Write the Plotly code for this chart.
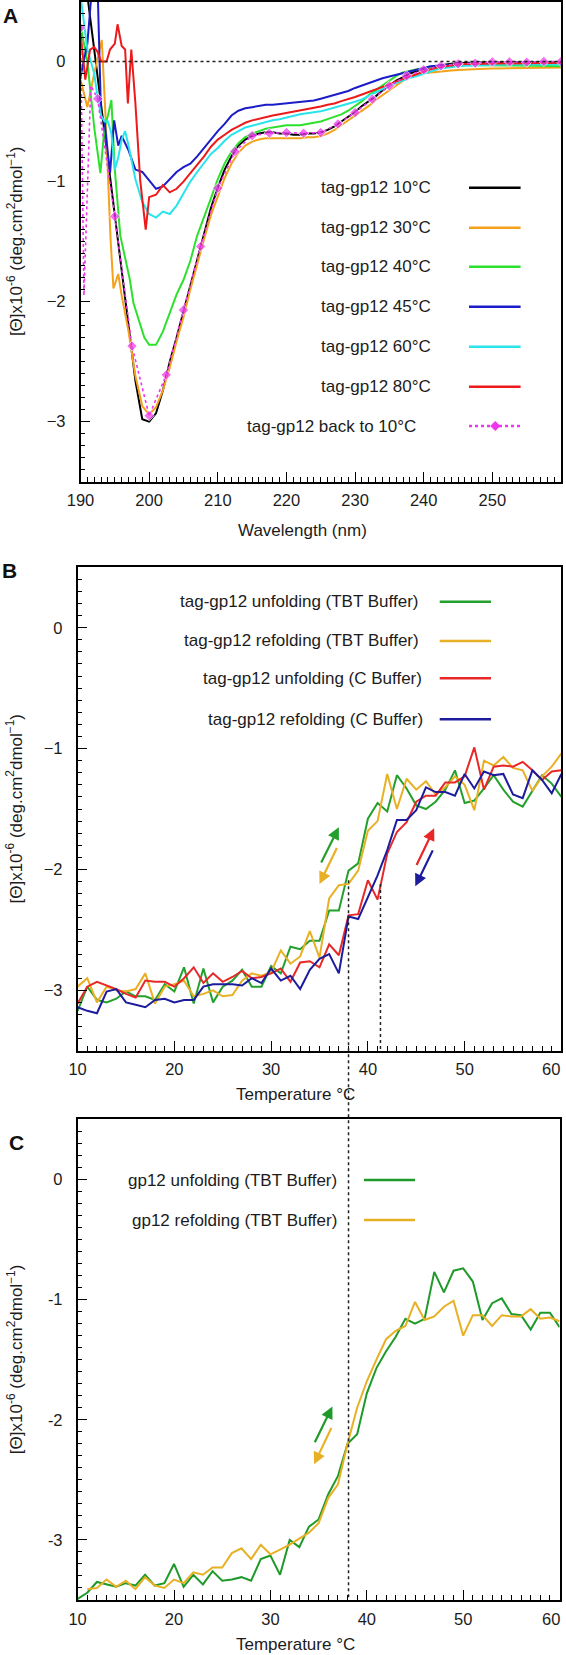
import plotly.graph_objects as go

W, H = 566, 1655
FONT = "Liberation Sans, Arial, Helvetica, sans-serif"
INK = "#1c1c1c"

def px(x):
    return x / W

def py(y):
    return 1 - y / H

# ---------------- Panel A : CD spectra ----------------
wl_grid = [200, 201, 202, 203, 204, 205, 206, 207, 208, 209,
           210, 211, 212, 213, 214, 215, 216, 217, 218, 219,
           220, 221, 222, 223, 224, 225, 226, 227, 228, 229,
           230, 231, 232, 233, 234, 235, 236, 237, 238, 239,
           240, 241, 242, 243, 244, 245, 246,
           248, 250, 252, 254, 256, 258, 260]

wl_10_head = [190, 191, 192, 193, 194, 195, 196, 197, 198, 199]
th_10_head = [0.9, 0.55, 0.1, -0.35, -0.8, -1.29, -1.75, -2.2, -2.66, -2.98]
th_10_tail = [-3.0, -2.93, -2.74, -2.5, -2.3, -2.08, -1.86, -1.64, -1.43, -1.22,
              -1.05, -0.9, -0.79, -0.7, -0.65, -0.62, -0.6, -0.59, -0.59, -0.6,
              -0.6, -0.61, -0.61, -0.6, -0.6, -0.59, -0.57, -0.54, -0.5, -0.46,
              -0.42, -0.37, -0.33, -0.29, -0.24, -0.2, -0.16, -0.13, -0.1, -0.08,
              -0.06, -0.045, -0.035, -0.025, -0.018, -0.013, -0.01,
              -0.008, -0.006, -0.005, -0.005, -0.005, -0.005, -0.005]

wl_30_head = [190, 191, 192, 193.1, 193.6, 194.0, 194.4, 194.8, 195.5, 196, 197, 198, 199]
th_30_head = [-0.15, -0.38, -0.1, 0.18, -0.4, -1.0, -1.5, -1.89, -1.77, -1.95, -2.25, -2.62, -2.87]
th_30_tail = [-2.94, -2.88, -2.74, -2.55, -2.33, -2.13, -1.9, -1.68, -1.48, -1.28,
              -1.12, -0.97, -0.85, -0.76, -0.7, -0.667, -0.65, -0.64, -0.64, -0.64,
              -0.64, -0.64, -0.64, -0.63, -0.63, -0.62, -0.6, -0.57, -0.53, -0.49,
              -0.45, -0.41, -0.37, -0.32, -0.28, -0.24, -0.2, -0.16, -0.13, -0.11,
              -0.097, -0.09, -0.085, -0.08, -0.075, -0.07, -0.066,
              -0.062, -0.058, -0.056, -0.055, -0.054, -0.052, -0.05]

wl_40_head = [190, 191, 192, 192.9, 193.5, 194, 194.5, 195, 195.8, 196.5, 197.2, 197.7, 198.7, 199.3]
th_40_head = [0.3, 0.0, -0.55, -0.93, -0.55, -0.45, -0.32, -0.9, -1.45, -1.65, -1.82, -2.01, -2.18, -2.3]
th_40_tail = [-2.36, -2.36, -2.25, -2.1, -1.94, -1.82, -1.66, -1.45, -1.3, -1.14,
              -0.98, -0.85, -0.75, -0.68, -0.63, -0.6, -0.58, -0.56, -0.55, -0.54,
              -0.53, -0.53, -0.53, -0.52, -0.51, -0.5, -0.48, -0.46, -0.44, -0.41,
              -0.37, -0.33, -0.28, -0.24, -0.2, -0.16, -0.12, -0.09, -0.075, -0.064,
              -0.055, -0.045, -0.04, -0.035, -0.032, -0.03, -0.03,
              -0.03, -0.03, -0.032, -0.035, -0.035, -0.038, -0.04]

wl_45_head = [190, 191, 191.8, 192.5, 193, 193.5, 194.3, 194.9, 195.5, 196, 197, 198, 199]
th_45_head = [-0.13, 0.15, 0.7, 0.6, -0.46, -0.5, -0.93, -0.49, -0.7, -0.62, -0.74, -0.9, -0.92]
th_45_tail = [-0.99, -1.06, -1.04, -0.98, -0.92, -0.88, -0.85, -0.79, -0.72, -0.65,
              -0.58, -0.52, -0.45, -0.41, -0.39, -0.38, -0.37, -0.36, -0.36, -0.355,
              -0.35, -0.345, -0.34, -0.335, -0.325, -0.31, -0.295, -0.28, -0.26, -0.245,
              -0.22, -0.2, -0.175, -0.16, -0.14, -0.125, -0.11, -0.095, -0.08, -0.07,
              -0.055, -0.04, -0.035, -0.03, -0.028, -0.025, -0.025,
              -0.022, -0.022, -0.02, -0.02, -0.02, -0.02, -0.02]

wl_60_head = [190, 190.5, 191, 191.5, 192, 192.5, 193, 193.5, 194, 194.5, 195, 195.5,
              196, 196.5, 197, 198, 199]
th_60_head = [0.55, 0.3, 0.1, 0.0, -0.1, -0.3, -0.45, -0.5, -0.5, -0.6, -0.9, -0.8,
              -0.65, -0.58, -0.7, -0.98, -1.17]
th_60_tail = [-1.27, -1.3, -1.25, -1.27, -1.2, -1.1, -1.0, -0.92, -0.84, -0.77,
              -0.72, -0.66, -0.61, -0.58, -0.55, -0.535, -0.52, -0.5, -0.49, -0.48,
              -0.465, -0.455, -0.44, -0.43, -0.425, -0.415, -0.4, -0.385, -0.37, -0.355,
              -0.335, -0.315, -0.285, -0.255, -0.23, -0.2, -0.18, -0.155, -0.135, -0.12,
              -0.1, -0.08, -0.065, -0.055, -0.045, -0.04, -0.035,
              -0.03, -0.028, -0.025, -0.025, -0.025, -0.025, -0.025]

wl_80_head = [190, 190.7, 191.4, 192, 192.5, 193, 193.8, 194.3, 195, 195.4, 196, 196.5,
              196.9, 197.4, 198, 198.7, 199.5]
th_80_head = [0.24, -0.15, 0.1, 0.12, 0.08, 0.0, 0.0, 0.1, 0.15, 0.31, 0.13, 0.1,
              -0.35, 0.1, -0.35, -0.99, -1.4]
th_80_tail = [-1.13, -1.11, -1.03, -1.09, -1.06, -1.0, -0.93, -0.86, -0.79, -0.71,
              -0.65, -0.61, -0.57, -0.54, -0.51, -0.49, -0.475, -0.46, -0.45, -0.44,
              -0.43, -0.42, -0.41, -0.4, -0.39, -0.375, -0.36, -0.35, -0.33, -0.315,
              -0.295, -0.275, -0.255, -0.235, -0.21, -0.19, -0.165, -0.145, -0.12, -0.1,
              -0.08, -0.065, -0.05, -0.04, -0.03, -0.025, -0.02,
              -0.018, -0.015, -0.012, -0.01, -0.01, -0.01, -0.01]

wl_back = [190, 190.5, 191.5, 192.5, 195, 197.5, 200, 202.5, 205, 207.5, 210, 212.5,
           215, 217.5, 220, 222.5, 225, 227.5, 230, 232.5, 235, 237.5, 240, 242.5,
           245, 247.5, 250, 252.5, 255, 257.5, 260]
th_back = [0.28, -1.95, -0.2, -0.31, -1.29, -2.37, -2.95, -2.61, -2.07, -1.54, -1.055, -0.75,
           -0.617, -0.597, -0.592, -0.597, -0.592, -0.52, -0.425, -0.314, -0.203, -0.12, -0.069, -0.036,
           -0.019, -0.014, -0.003, -0.003, -0.005, 0.0, 0.0]

names_A = ["tag-gp12 10°C", "tag-gp12 30°C", "tag-gp12 40°C", "tag-gp12 45°C",
           "tag-gp12 60°C", "tag-gp12 80°C", "tag-gp12 back to 10°C"]
colors_A = ["#000000", "#f4a21c", "#2ee02e", "#1c1cc8", "#2ae4ec", "#ec1a1a", "#ee36ee"]

# ---------------- Panel B ----------------
temp_B = [10, 11, 12, 13, 14, 15, 16, 17, 18, 19,
          20, 21, 22, 23, 24, 25, 26, 27, 28, 29,
          30, 31, 32, 33, 34, 35, 36, 37, 38, 39,
          40, 41, 42, 43, 44, 45, 46, 47, 48, 49,
          50, 51, 52, 53, 54, 55, 56, 57, 58, 59, 60]
unf_TBT = [-3.17, -2.97, -3.08, -3.1, -3.07, -3.01, -3.05, -3.05, -3.08, -2.95,
           -3.01, -2.81, -3.11, -2.82, -3.1, -2.97, -2.92, -2.83, -2.97, -2.97,
           -2.8, -2.86, -2.64, -2.66, -2.59, -2.59, -2.34, -2.34, -2.01, -1.95,
           -1.58, -1.45, -1.52, -1.22, -1.33, -1.47, -1.5, -1.44, -1.34, -1.18,
           -1.45, -1.43, -1.33, -1.22, -1.34, -1.44, -1.48, -1.35, -1.22, -1.29, -1.4]
ref_TBT = [-2.97, -2.9, -3.1, -2.97, -3.0, -3.01, -2.99, -2.86, -3.11, -2.97,
           -2.95, -2.92, -3.05, -3.03, -3.0, -3.05, -3.04, -2.92, -2.86, -2.88,
           -2.85, -2.67, -2.78, -2.72, -2.51, -2.73, -2.24, -2.13, -2.12, -2.01,
           -1.68, -1.6, -1.21, -1.5, -1.25, -1.34, -1.27, -1.38, -1.32, -1.23,
           -1.3, -1.51, -1.1, -1.14, -1.07, -1.16, -1.18, -1.35, -1.23, -1.15, -1.04]
unf_C = [-3.11, -2.97, -2.93, -2.96, -2.99, -3.03, -3.06, -2.92, -2.93, -2.93,
         -2.97, -2.9, -2.81, -2.94, -2.86, -2.93, -2.89, -2.84, -2.9, -2.89,
         -2.86, -2.82, -2.93, -2.77, -2.76, -2.81, -2.62, -2.71, -2.38, -2.37,
         -2.09, -2.25, -1.87, -1.69, -1.61, -1.44, -1.39, -1.39, -1.28, -1.28,
         -1.23, -0.99, -1.34, -1.15, -1.14, -1.15, -1.11, -1.18, -1.26, -1.19, -1.18]
ref_C = [-3.14, -3.17, -3.19, -3.01, -2.99, -3.1, -3.12, -3.14, -3.08, -3.07,
         -3.1, -3.08, -3.08, -2.97, -2.95, -2.95, -2.95, -2.96, -2.9, -2.94,
         -2.82, -2.92, -2.88, -2.99, -2.83, -2.74, -2.7, -2.86, -2.39, -2.41,
         -2.23, -2.05, -1.84, -1.59, -1.59, -1.51, -1.32, -1.36, -1.36, -1.39,
         -1.21, -1.33, -1.19, -1.22, -1.21, -1.38, -1.41, -1.18, -1.26, -1.37, -1.21]
names_B = ["tag-gp12 unfolding (TBT Buffer)", "tag-gp12 refolding (TBT Buffer)",
           "tag-gp12 unfolding (C Buffer)", "tag-gp12 refolding (C Buffer)"]
colors_B = ["#23a02c", "#e8b024", "#e82828", "#1c1c9c"]

# ---------------- Panel C ----------------
temp_C_unf = [10, 11, 12, 13, 14, 15, 16, 17, 18, 19,
              20, 21, 22, 23, 24, 25, 26, 27, 28, 29,
              30, 31, 32, 33, 34, 35, 36, 37, 38, 39,
              40, 41, 42, 43, 44, 45, 46, 47, 48, 49,
              50, 51, 52, 53, 54, 55, 56, 57, 58, 59, 60]
gp12_unf = [-3.49, -3.44, -3.35, -3.37, -3.39, -3.36, -3.38, -3.29, -3.38, -3.36,
            -3.2, -3.39, -3.29, -3.37, -3.26, -3.34, -3.33, -3.31, -3.34, -3.16,
            -3.13, -3.29, -3.0, -3.06, -2.89, -2.83, -2.62, -2.47, -2.2, -2.12,
            -1.78, -1.57, -1.43, -1.31, -1.16, -1.2, -1.16, -0.77, -0.94, -0.76,
            -0.74, -0.85, -1.17, -1.03, -0.99, -1.12, -1.13, -1.25, -1.11, -1.11, -1.23]
temp_C_ref = [11, 12, 13, 14, 15, 16, 17, 18, 19,
              20, 21, 22, 23, 24, 25, 26, 27, 28, 29,
              30, 31, 32, 33, 34, 35, 36, 37, 38, 39,
              40, 41, 42, 43, 44, 45, 46, 47, 48, 49,
              50, 51, 52, 53, 54, 55, 56, 57, 58, 59, 60]
gp12_ref = [-3.41, -3.4, -3.33, -3.39, -3.34, -3.41, -3.31, -3.38, -3.4,
            -3.33, -3.36, -3.27, -3.29, -3.23, -3.23, -3.11, -3.07, -3.16, -3.04,
            -3.12, -3.08, -3.04, -2.99, -2.94, -2.86, -2.65, -2.54, -2.2, -1.9,
            -1.68, -1.5, -1.33, -1.26, -1.22, -1.02, -1.17, -1.14, -1.06, -1.01,
            -1.3, -1.13, -1.13, -1.22, -1.13, -1.14, -1.14, -1.08, -1.16, -1.15, -1.18]
names_C = ["gp12 unfolding (TBT Buffer)", "gp12 refolding (TBT Buffer)"]
colors_C = ["#1f9a2a", "#e8b024"]

tm_B_TBT, tm_B_C, tm_C = 38.0, 41.3, 38.0
arrows_B = [((35.1, -1.955), (37.0, -1.65), colors_B[0]),
            ((36.87, -1.81), (35.0, -2.12), colors_B[1]),
            ((44.96, -1.975), (46.85, -1.66), colors_B[2]),
            ((46.78, -1.83), (44.9, -2.14), colors_B[3])]
arrows_C = [((34.53, -2.2), (36.43, -1.89), colors_C[0]),
            ((36.4, -2.055), (34.53, -2.37), colors_C[1])]

# ---------------- layout geometry ----------------
XR_A, XR_T, YR = [190, 260], [10, 60], [-3.5, 0.5]
DOM_A = dict(x=[px(80.5), px(561.0)], y=[py(481.7), py(1.5)])
DOM_B = dict(x=[px(77.6), px(561.4)], y=[py(1050.7), py(567.3)])
DOM_C = dict(x=[px(77.6), px(559.6)], y=[py(1600.0), py(1119.3)])


def to_paper(v, dom, rng):
    return dom[0] + (v - rng[0]) / (rng[1] - rng[0]) * (dom[1] - dom[0])


fig = go.Figure()

series_A = [
    (wl_10_head + wl_grid, th_10_head + th_10_tail),
    (wl_30_head + wl_grid, th_30_head + th_30_tail),
    (wl_40_head + wl_grid, th_40_head + th_40_tail),
    (wl_45_head + wl_grid, th_45_head + th_45_tail),
    (wl_60_head + wl_grid, th_60_head + th_60_tail),
    (wl_80_head + wl_grid, th_80_head + th_80_tail),
]
for (xs, ys), c in zip(series_A, colors_A[:6]):
    fig.add_trace(go.Scatter(x=xs, y=ys, mode="lines", line=dict(color=c, width=2),
                             xaxis="x", yaxis="y", hoverinfo="skip"))
marker_sizes = [8 if (w * 2) % 5 == 0 else 0 for w in wl_back]
fig.add_trace(go.Scatter(x=wl_back, y=th_back, mode="lines+markers",
                         line=dict(color=colors_A[6], width=1.6, dash="3px,3px"),
                         marker=dict(symbol="diamond", size=marker_sizes, color=colors_A[6]),
                         xaxis="x", yaxis="y", hoverinfo="skip"))

for ys, c in zip([unf_TBT, ref_TBT, unf_C, ref_C], colors_B):
    fig.add_trace(go.Scatter(x=temp_B, y=ys, mode="lines", line=dict(color=c, width=2),
                             xaxis="x2", yaxis="y2", hoverinfo="skip"))

for xs, ys, c in zip([temp_C_unf, temp_C_ref], [gp12_unf, gp12_ref], colors_C):
    fig.add_trace(go.Scatter(x=xs, y=ys, mode="lines", line=dict(color=c, width=2),
                             xaxis="x3", yaxis="y3", hoverinfo="skip"))


def xaxis(domain, rng, tickvals, anchor, tick0):
    return dict(domain=domain, range=rng, anchor=anchor, tickmode="array", tickvals=tickvals,
                ticks="inside", ticklen=10, tickwidth=1.3, tickcolor="black",
                showline=True, mirror=True, linecolor="black", linewidth=1.5,
                showgrid=False, zeroline=False, fixedrange=True, automargin=False,
                tickfont=dict(family=FONT, size=16.5, color=INK), ticklabelstandoff=3,
                minor=dict(ticks="inside", ticklen=5, tickwidth=1.1, tickcolor="black",
                           tickmode="linear", tick0=tick0, dtick=1, showgrid=False))


def yaxis(domain, anchor, ticktext):
    return dict(domain=domain, range=YR, anchor=anchor, tickmode="array",
                tickvals=[-3, -2, -1, 0], ticktext=ticktext,
                ticks="inside", ticklen=10, tickwidth=1.3, tickcolor="black",
                showline=True, mirror=True, linecolor="black", linewidth=1.5,
                showgrid=False, zeroline=False, fixedrange=True, automargin=False,
                tickfont=dict(family=FONT, size=16.5, color=INK), ticklabelstandoff=10,
                minor=dict(ticks="inside", ticklen=5, tickwidth=1.1, tickcolor="black",
                           tickmode="linear", tick0=0, dtick=0.1, showgrid=False))


minus_ticks = ["\u22123", "\u22122", "\u22121", "0"]
hyphen_ticks = ["-3", "-2", "-1", "0"]

fig.update_layout(
    template="none",
    width=W, height=H, autosize=False, margin=dict(l=0, r=0, t=0, b=0, pad=0),
    paper_bgcolor="white", plot_bgcolor="white", showlegend=False,
    font=dict(family=FONT, color=INK),
    xaxis=xaxis(DOM_A["x"], XR_A, [190, 200, 210, 220, 230, 240, 250], "y", 190),
    yaxis=yaxis(DOM_A["y"], "x", minus_ticks),
    xaxis2=xaxis(DOM_B["x"], XR_T, [10, 20, 30, 40, 50], "y2", 10),
    yaxis2=yaxis(DOM_B["y"], "x2", minus_ticks),
    xaxis3=xaxis(DOM_C["x"], XR_T, [10, 20, 30, 40, 50], "y3", 10),
    yaxis3=yaxis(DOM_C["y"], "x3", hyphen_ticks),
)

shapes = []
annotations = []

shapes.append(dict(type="line", xref="x", yref="y", x0=XR_A[0], x1=XR_A[1], y0=0, y1=0,
                   line=dict(color="#222", width=1.5, dash="dot")))
shapes.append(dict(type="line", xref="x2", yref="y2", x0=tm_B_C, x1=tm_B_C, y0=-2.12, y1=YR[0],
                   line=dict(color="#222", width=1.5, dash="dot")))
x_tm = to_paper(tm_B_TBT, DOM_B["x"], XR_T)
shapes.append(dict(type="line", xref="paper", yref="paper", x0=x_tm, x1=x_tm,
                   y0=to_paper(-2.09, DOM_B["y"], YR), y1=DOM_C["y"][0],
                   line=dict(color="#222", width=1.5, dash="dot")))


def legend(names, colors, text_right, rows, x0, x1, size=17, dashed_last=False):
    for i, (n, c) in enumerate(zip(names, colors)):
        annotations.append(dict(text=n, xref="paper", yref="paper", x=px(text_right[i]), y=py(rows[i]),
                                xanchor="right", yanchor="middle", showarrow=False,
                                font=dict(family=FONT, size=size, color=INK)))
        dash = "3px,3px" if (dashed_last and i == len(names) - 1) else "solid"
        shapes.append(dict(type="line", xref="paper", yref="paper", x0=px(x0), x1=px(x1),
                           y0=py(rows[i]), y1=py(rows[i]), line=dict(color=c, width=2.5, dash=dash)))


legend(names_A, colors_A, [433, 433, 433, 433, 433, 433, 418],
       [187.7, 227.7, 266.7, 306.7, 346.7, 386.7, 426.0], 469, 520.6, dashed_last=True)
cx, cy, d = 495.3, 426.0, 4.8
shapes.append(dict(type="path", xref="paper", yref="paper",
                   path=f"M {px(cx-d)},{py(cy)} L {px(cx)},{py(cy-d)} L {px(cx+d)},{py(cy)} L {px(cx)},{py(cy+d)} Z",
                   fillcolor=colors_A[6], line=dict(color=colors_A[6], width=0.5)))
legend(names_B, colors_B, [419.5, 420.6, 424, 425], [601.7, 641.0, 678.3, 719.3], 439.7, 491)
legend(names_C, colors_C, [339.4, 339.4], [1180.0, 1220.0], 364, 415)

for (tail, head, c), (xr, yr) in [(a, ("x2", "y2")) for a in arrows_B] + [(a, ("x3", "y3")) for a in arrows_C]:
    annotations.append(dict(x=head[0], y=head[1], ax=tail[0], ay=tail[1], xref=xr, yref=yr,
                            axref=xr, ayref=yr, text="", showarrow=True, arrowhead=2,
                            arrowsize=1.1, arrowwidth=2.2, arrowcolor=c, standoff=0, startstandoff=0))

ytitle = "[Θ]x10<sup>-6</sup> (deg.cm<sup>2</sup>dmol<sup>\u22121</sup>)"
for dom in (DOM_A, DOM_B, DOM_C):
    annotations.append(dict(text=ytitle, xref="paper", yref="paper", x=px(14.5),
                            y=(dom["y"][0] + dom["y"][1]) / 2, textangle=-90,
                            xanchor="center", yanchor="middle", showarrow=False,
                            font=dict(family=FONT, size=17, color=INK)))
for text, xc, yc in [("Wavelength (nm)", 302.3, 530.7), ("Temperature °C", 295, 1094.3),
                     ("Temperature °C", 295, 1644)]:
    annotations.append(dict(text=text, xref="paper", yref="paper", x=px(xc), y=py(yc),
                            xanchor="center", yanchor="middle", showarrow=False,
                            font=dict(family=FONT, size=17, color=INK)))
for yc in (1069, 1619):
    annotations.append(dict(text="60", xref="paper", yref="paper", x=px(550.5), y=py(yc),
                            xanchor="center", yanchor="middle", showarrow=False,
                            font=dict(family=FONT, size=16.5, color=INK)))
for t, xc, yc in [("A", 10, 15), ("B", 9, 570), ("C", 16.5, 1142.5)]:
    annotations.append(dict(text=f"<b>{t}</b>", xref="paper", yref="paper", x=px(xc), y=py(yc),
                            xanchor="center", yanchor="middle", showarrow=False,
                            font=dict(family=FONT, size=21, color="#111")))

fig.update_layout(shapes=shapes, annotations=annotations)
fig.write_html("out.html", config={"displayModeBar": False},
               post_script="document.body.style.margin='0';document.body.style.overflow='hidden';")
